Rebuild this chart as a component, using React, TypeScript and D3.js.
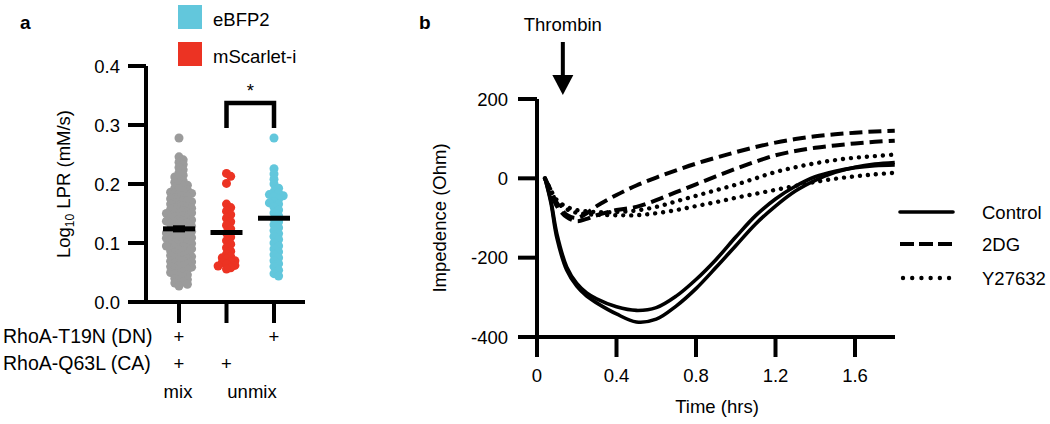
import React from "react";
import * as d3 from "d3";

// ---------- Panel a data ----------
const groups = ["mix", "CA-unmix", "DN-unmix"];
const groupColors = ["#9b9b9b", "#ec3323", "#62c7dc"];
const grayValues = [
  0.278, 0.246, 0.241, 0.237, 0.233, 0.228, 0.224, 0.219, 0.215, 0.212, 0.209,
  0.205, 0.203, 0.2, 0.198, 0.196, 0.193, 0.191, 0.19, 0.188, 0.186, 0.184, 0.182, 0.18, 0.179,
  0.177, 0.175, 0.173, 0.171, 0.17, 0.168, 0.166, 0.164, 0.162, 0.16, 0.159, 0.157, 0.155, 0.153,
  0.151, 0.15, 0.148, 0.146, 0.144, 0.142, 0.14, 0.139, 0.137, 0.135, 0.133, 0.131, 0.13, 0.128,
  0.126, 0.124, 0.122, 0.12, 0.119, 0.117, 0.115, 0.113, 0.111, 0.11, 0.108, 0.106, 0.104, 0.102,
  0.1, 0.099, 0.097, 0.095, 0.093, 0.091, 0.09, 0.088, 0.086, 0.084, 0.082, 0.08, 0.079, 0.077,
  0.075, 0.073, 0.071, 0.07, 0.068, 0.066, 0.064, 0.062, 0.06, 0.059, 0.057, 0.055, 0.053, 0.051,
  0.05, 0.048, 0.046, 0.044, 0.042, 0.04, 0.038, 0.036, 0.034, 0.032, 0.03, 0.027,
  0.185, 0.172, 0.163, 0.152, 0.143, 0.134, 0.127, 0.118, 0.109, 0.101, 0.094, 0.087, 0.078,
  0.069, 0.061, 0.121, 0.112, 0.138, 0.156, 0.096,
];
const redValues = [
  0.218, 0.213, 0.201, 0.166, 0.16, 0.154, 0.148, 0.142, 0.136, 0.13, 0.124,
  0.117, 0.11, 0.104, 0.098, 0.092, 0.086, 0.081, 0.077, 0.073, 0.07, 0.067, 0.064,
  0.061, 0.058, 0.056, 0.068, 0.062, 0.075,
];
const blueValues = [
  0.278, 0.226, 0.217, 0.208, 0.2, 0.193, 0.187, 0.182, 0.178, 0.174, 0.17, 0.166,
  0.161, 0.156, 0.151, 0.146, 0.141, 0.136, 0.131, 0.126, 0.121, 0.116, 0.111, 0.106,
  0.1, 0.095, 0.09, 0.085, 0.08, 0.075, 0.07, 0.065, 0.06, 0.054, 0.048, 0.044,
  0.18, 0.168, 0.185,
];
const groupMeans = [0.124, 0.118, 0.142];
const groupSem = [0.006, 0, 0];
const yTicksA = [0, 0.1, 0.2, 0.3, 0.4];
const rowDN = ["+", "", "+"];
const rowCA = ["+", "+", ""];
const legendA = ["eBFP2", "mScarlet-i"];
const legendAColors = ["#62c7dc", "#ec3323"];

// ---------- Panel b data ----------
const times = [0.04, 0.07, 0.1, 0.15, 0.2, 0.25, 0.3, 0.4, 0.5, 0.6, 0.7, 0.8, 0.9, 1.0, 1.1, 1.2, 1.3, 1.4, 1.5, 1.6, 1.7, 1.8];
const control1 = [0, -62, -150, -232, -272, -297, -314, -342, -362, -355, -322, -278, -225, -170, -115, -70, -32, -5, 15, 28, 36, 40];
const control2 = [0, -57, -140, -224, -265, -289, -304, -324, -333, -326, -297, -255, -205, -148, -94, -52, -20, 4, 18, 27, 32, 34];
const dg1 = [0, -30, -62, -92, -100, -88, -70, -42, -18, 2, 20, 37, 52, 66, 79, 90, 99, 106, 111, 115, 118, 120];
const dg2 = [0, -35, -70, -98, -108, -102, -93, -80, -72, -55, -35, -15, 5, 24, 42, 58, 69, 77, 83, 88, 92, 95];
const y1 = [0, -30, -55, -72, -80, -83, -85, -85, -81, -72, -58, -44, -30, -16, 0, 16, 28, 38, 46, 52, 56, 60];
const y2 = [0, -35, -60, -78, -87, -90, -92, -93, -93, -88, -80, -70, -60, -49, -39, -29, -19, -9, -1, 5, 10, 14];
const yTicksB = [200, 0, -200, -400];
const xTicksB = [0, 0.4, 0.8, 1.2, 1.6];
const legendB = ["Control", "2DG", "Y27632"];
const thrombinTime = 0.13;

const FONT = "'Liberation Sans', Arial, sans-serif";

function swarm(values: number[], cx: number, y: (v: number) => number, d: number) {
  const sorted = [...values].sort((a, b) => b - a);
  const placed: { x: number; y: number }[] = [];
  for (const v of sorted) {
    const py = y(v);
    let k = 0;
    while (true) {
      const off = k === 0 ? 0 : (k % 2 === 1 ? 1 : -1) * Math.ceil(k / 2) * d;
      const px = cx + off;
      const hit = placed.some((p) => (p.x - px) ** 2 + (p.y - py) ** 2 < d * d - 0.01);
      if (!hit) {
        placed.push({ x: px, y: py });
        break;
      }
      k++;
    }
  }
  return placed;
}

export default function App() {
  // Panel a scales
  const ya = d3.scaleLinear().domain([0, 0.4]).range([302, 66]);
  const xa = d3.scalePoint<string>().domain(groups).range([179, 274]);
  const allVals = [grayValues, redValues, blueValues];
  const collide = [4.2, 4.2, 4.6];
  const swarms = allVals.map((vals, i) => swarm(vals, xa(groups[i]) as number, ya, collide[i]));

  // Panel b scales
  const xb = d3.scaleLinear().domain([0, 1.8]).range([537, 894.75]);
  const yb = d3.scaleLinear().domain([-400, 200]).range([337, 99]);
  const line = d3
    .line<number>()
    .x((_, i) => xb(times[i]))
    .y((v) => yb(v))
    .curve(d3.curveCatmullRom.alpha(0.5));

  const solidStyle = { stroke: "#000", strokeWidth: 3.6, fill: "none" };
  const dashStyle = { stroke: "#000", strokeWidth: 4, fill: "none", strokeDasharray: "13 6" };
  const dotStyle = { stroke: "#000", strokeWidth: 4.4, fill: "none", strokeDasharray: "0.01 8", strokeLinecap: "round" as const };

  const fs = 18.5;
  const axisW = 4;

  return (
    <svg width={1050} height={424} style={{ position: "absolute", left: 0, top: 0, background: "#fff" }} fontFamily={FONT}>
      <rect x={0} y={0} width={1050} height={424} fill="#fff" />
      {/* ---------------- Panel a ---------------- */}
      <text x={20} y={29} fontSize={19} fontWeight="bold">a</text>
      {legendA.map((l, i) => (
        <g key={l}>
          <rect x={178} y={5 + i * 37} width={24} height={24} fill={legendAColors[i]} />
          <text x={213} y={26 + i * 37} fontSize={fs}>{l}</text>
        </g>
      ))}
      {/* dots */}
      {swarms.map((pts, gi) =>
        pts.map((p, j) => <circle key={gi + "-" + j} cx={p.x} cy={p.y} r={4.5} fill={groupColors[gi]} />)
      )}
      {/* means */}
      {groups.map((g, i) => {
        const cx = xa(g) as number;
        return (
          <g key={g}>
            <line x1={cx - 16} x2={cx + 16} y1={ya(groupMeans[i])} y2={ya(groupMeans[i])} stroke="#000" strokeWidth={5} />
            {groupSem[i] > 0 && (
              <rect x={cx - 6} y={ya(groupMeans[i] + groupSem[i])} width={12} height={ya(groupMeans[i] - groupSem[i]) - ya(groupMeans[i] + groupSem[i])} fill="#000" />
            )}
          </g>
        );
      })}
      {/* y axis a */}
      <line x1={146} x2={146} y1={ya(0.4)} y2={ya(0)} stroke="#000" strokeWidth={axisW} />
      {yTicksA.map((t) => (
        <g key={t}>
          <line x1={128} x2={146} y1={ya(t)} y2={ya(t)} stroke="#000" strokeWidth={axisW} />
          <text x={120} y={ya(t) + 6.5} fontSize={fs} textAnchor="end">{t.toFixed(1)}</text>
        </g>
      ))}
      <line x1={128} x2={305} y1={ya(0)} y2={ya(0)} stroke="#000" strokeWidth={axisW} />
      {groups.map((g) => (
        <line key={g} x1={xa(g)} x2={xa(g)} y1={ya(0)} y2={323} stroke="#000" strokeWidth={axisW} />
      ))}
      <text transform={`translate(70,${184}) rotate(-90)`} fontSize={fs} textAnchor="middle">
        Log<tspan fontSize={12} dy={4}>10</tspan><tspan dy={-4}> LPR (mM/s)</tspan>
      </text>
      {/* significance */}
      <path d={`M${xa(groups[1])},128 V103 H${xa(groups[2])} V128`} fill="none" stroke="#000" strokeWidth={4.5} />
      <text x={((xa(groups[1]) as number) + (xa(groups[2]) as number)) / 2} y={97} fontSize={fs} textAnchor="middle">*</text>
      {/* row labels */}
      <text x={3} y={343} fontSize={19.5}>RhoA-T19N (DN)</text>
      <text x={3} y={370} fontSize={19.5}>RhoA-Q63L (CA)</text>
      {groups.map((g, i) => (
        <g key={g}>
          <text x={xa(g)} y={343} fontSize={fs} textAnchor="middle">{rowDN[i]}</text>
          <text x={xa(g)} y={370} fontSize={fs} textAnchor="middle">{rowCA[i]}</text>
        </g>
      ))}
      <text x={178} y={398} fontSize={fs} textAnchor="middle">mix</text>
      <text x={252} y={398} fontSize={fs} textAnchor="middle">unmix</text>

      {/* ---------------- Panel b ---------------- */}
      <text x={419} y={29} fontSize={19} fontWeight="bold">b</text>
      <text x={xb(thrombinTime)} y={31} fontSize={fs} textAnchor="middle">Thrombin</text>
      <line x1={xb(thrombinTime)} x2={xb(thrombinTime)} y1={42} y2={80} stroke="#000" strokeWidth={4} />
      <path d={`M${xb(thrombinTime) - 10.5},75 L${xb(thrombinTime) + 10.5},75 L${xb(thrombinTime)},95 Z`} fill="#000" />

      <path d={line(control1) as string} {...solidStyle} />
      <path d={line(control2) as string} {...solidStyle} />
      <path d={line(dg1) as string} {...dashStyle} />
      <path d={line(dg2) as string} {...dashStyle} />
      <path d={line(y1) as string} {...dotStyle} />
      <path d={line(y2) as string} {...dotStyle} />

      {/* axes b */}
      <line x1={537} x2={537} y1={yb(200)} y2={yb(-400)} stroke="#000" strokeWidth={axisW} />
      {yTicksB.map((t) => (
        <g key={t}>
          <line x1={518} x2={537} y1={yb(t)} y2={yb(t)} stroke="#000" strokeWidth={axisW} />
          <text x={508} y={yb(t) + 6.5} fontSize={fs} textAnchor="end">{t}</text>
        </g>
      ))}
      <line x1={518} x2={895} y1={yb(-400)} y2={yb(-400)} stroke="#000" strokeWidth={axisW} />
      {xTicksB.map((t) => (
        <g key={t}>
          <line x1={xb(t)} x2={xb(t)} y1={yb(-400)} y2={357} stroke="#000" strokeWidth={axisW} />
          <text x={xb(t)} y={382} fontSize={fs} textAnchor="middle">{t === 0 ? "0" : t.toFixed(1)}</text>
        </g>
      ))}
      <text x={717} y={413} fontSize={fs} textAnchor="middle">Time (hrs)</text>
      <text transform={`translate(446,${218}) rotate(-90)`} fontSize={fs} textAnchor="middle">Impedence (Ohm)</text>

      {/* legend b */}
      {legendB.map((l, i) => {
        const ly = [212, 244, 278][i];
        const st = i === 0 ? solidStyle : i === 1 ? { ...dashStyle, strokeDasharray: "14 5" } : { ...dotStyle, strokeDasharray: "0.01 9.2" };
        return (
          <g key={l}>
            <line x1={i === 2 ? 903 : 900} x2={953} y1={ly} y2={ly} {...st} strokeLinecap={i === 0 ? "round" : i === 2 ? "round" : "butt"} />
            <text x={982} y={ly + 6.5} fontSize={fs}>{l}</text>
          </g>
        );
      })}
    </svg>
  );
}
